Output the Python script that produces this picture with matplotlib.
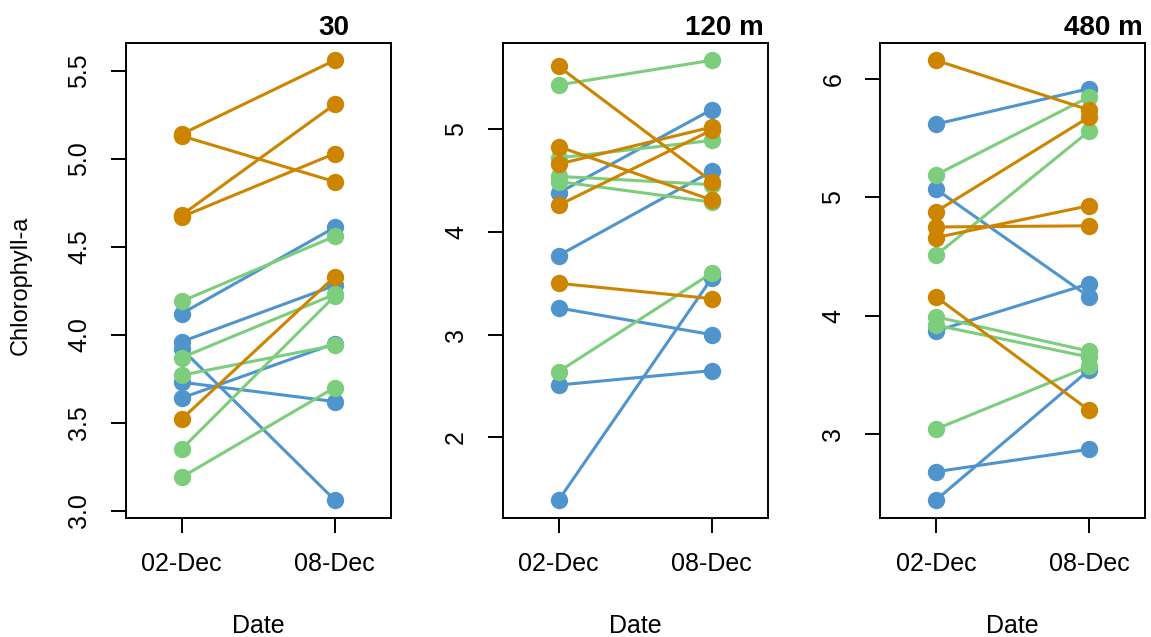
import matplotlib
matplotlib.use("Agg")
import matplotlib.pyplot as plt

plt.rcParams['font.family'] = ['Liberation Sans', 'DejaVu Sans']

dates = ['02-Dec', '08-Dec']
depths = ['30', '120 m', '480 m']

# chlorophyll-a per sample: [02-Dec, 08-Dec]
blue_30 = [[4.12, 4.61], [3.96, 4.28], [3.64, 3.95], [3.73, 3.62], [3.92, 3.06]]
green_30 = [[4.19, 4.56], [3.87, 4.23], [3.77, 3.94], [3.35, 4.22], [3.19, 3.70]]
orange_30 = [[5.14, 5.56], [5.13, 4.87], [4.68, 5.31], [4.67, 5.03], [3.52, 4.33]]

blue_120 = [[4.38, 5.19], [3.77, 4.59], [3.26, 3.00], [2.51, 2.65], [1.39, 3.55]]
green_120 = [[5.43, 5.67], [4.72, 4.89], [4.54, 4.46], [4.49, 4.29], [2.64, 3.60]]
orange_120 = [[5.61, 4.49], [4.83, 4.31], [4.66, 5.02], [4.26, 4.99], [3.50, 3.35]]

blue_480 = [[5.62, 5.92], [5.07, 4.16], [3.87, 4.27], [2.68, 2.87], [2.44, 3.54]]
green_480 = [[5.19, 5.85], [4.51, 5.56], [3.99, 3.70], [3.92, 3.65], [3.04, 3.57]]
orange_480 = [[6.16, 5.74], [4.88, 5.68], [4.75, 4.76], [4.66, 4.93], [4.16, 3.20]]

yticks_30 = [3.0, 3.5, 4.0, 4.5, 5.0, 5.5]
yticks_120 = [2, 3, 4, 5]
yticks_480 = [3, 4, 5, 6]

colors = ['#4F94CD', '#7CCD7C', '#CD8500']

panels = [
    (depths[0], [blue_30, green_30, orange_30], yticks_30, '%.1f', 0.845),
    (depths[1], [blue_120, green_120, orange_120], yticks_120, '%d', 0.986),
    (depths[2], [blue_480, green_480, orange_480], yticks_480, '%d', 0.991),
]

W, H = 1151, 637
fig = plt.figure(figsize=(W / 100, H / 100), dpi=100)
lefts = [125.7, 502.7, 880.0]

for i, (title, groups, yt, fmt, tx) in enumerate(panels):
    ax = fig.add_axes([lefts[i] / W, 0.1873, 265 / W, 0.7457])
    for group, col in zip(groups, colors):
        for pair in group:
            ax.plot([1, 2], pair, '-o', color=col, lw=2.2, ms=12.5, mew=0)
    ax.set_xlim(0.635, 2.365)
    ax.margins(y=0.04)
    ax.set_xticks([1, 2])
    ax.set_xticklabels(dates, fontsize=18)
    ax.set_yticks(yt)
    ax.set_yticklabels([fmt % v for v in yt], fontsize=18, rotation=90, va='center')
    ax.tick_params(length=11, width=1.4, pad=14)
    for sp in ax.spines.values():
        sp.set_linewidth(1.4)
    ax.set_xlabel('Date', fontsize=18)
    ax.xaxis.set_label_coords(0.5, -0.202)
    ax.text(tx, 1.016, title, ha='right', va='baseline', fontsize=20,
            fontweight='bold', transform=ax.transAxes)

fig.text(21 / W, 1 - 285 / H, 'Chlorophyll-a', rotation=90, ha='center',
         va='center', fontsize=17)

fig.savefig('out.png', dpi=100)
